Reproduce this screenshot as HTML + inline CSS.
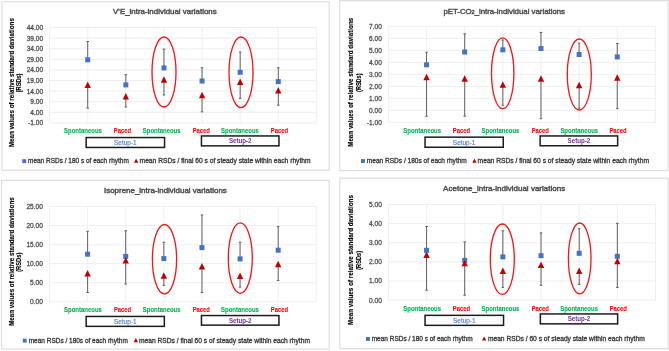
<!DOCTYPE html><html><head><meta charset="utf-8"><style>html,body{margin:0;padding:0;background:#fff;overflow:hidden;}svg{display:block;}</style></head><body>
<svg width="669" height="351" viewBox="0 0 669 351" font-family='"Liberation Sans", sans-serif'>
<defs><filter id="bl" filterUnits="userSpaceOnUse" x="0" y="0" width="669" height="351"><feGaussianBlur stdDeviation="0.45"/></filter></defs>
<rect width="669" height="351" fill="#fff"/>
<g filter="url(#bl)">
<rect x="2" y="1.8" width="327.20" height="168.40" fill="#fff" stroke="#dedede" stroke-width="1.2"/>
<line x1="49.6" y1="27.50" x2="316.4" y2="27.50" stroke="#ebebeb" stroke-width="0.8"/>
<text x="43.10" y="30.01" font-size="7" fill="#505050" stroke="#505050" stroke-width="0.3" text-anchor="end" font-weight="normal" textLength="16.46" lengthAdjust="spacingAndGlyphs">44.00</text>
<line x1="49.6" y1="38.10" x2="316.4" y2="38.10" stroke="#ebebeb" stroke-width="0.8"/>
<text x="43.10" y="40.61" font-size="7" fill="#505050" stroke="#505050" stroke-width="0.3" text-anchor="end" font-weight="normal" textLength="16.46" lengthAdjust="spacingAndGlyphs">39.00</text>
<line x1="49.6" y1="48.70" x2="316.4" y2="48.70" stroke="#ebebeb" stroke-width="0.8"/>
<text x="43.10" y="51.21" font-size="7" fill="#505050" stroke="#505050" stroke-width="0.3" text-anchor="end" font-weight="normal" textLength="16.46" lengthAdjust="spacingAndGlyphs">34.00</text>
<line x1="49.6" y1="59.30" x2="316.4" y2="59.30" stroke="#ebebeb" stroke-width="0.8"/>
<text x="43.10" y="61.81" font-size="7" fill="#505050" stroke="#505050" stroke-width="0.3" text-anchor="end" font-weight="normal" textLength="16.46" lengthAdjust="spacingAndGlyphs">29.00</text>
<line x1="49.6" y1="69.90" x2="316.4" y2="69.90" stroke="#ebebeb" stroke-width="0.8"/>
<text x="43.10" y="72.41" font-size="7" fill="#505050" stroke="#505050" stroke-width="0.3" text-anchor="end" font-weight="normal" textLength="16.46" lengthAdjust="spacingAndGlyphs">24.00</text>
<line x1="49.6" y1="80.50" x2="316.4" y2="80.50" stroke="#ebebeb" stroke-width="0.8"/>
<text x="43.10" y="83.01" font-size="7" fill="#505050" stroke="#505050" stroke-width="0.3" text-anchor="end" font-weight="normal" textLength="16.46" lengthAdjust="spacingAndGlyphs">19.00</text>
<line x1="49.6" y1="91.10" x2="316.4" y2="91.10" stroke="#ebebeb" stroke-width="0.8"/>
<text x="43.10" y="93.61" font-size="7" fill="#505050" stroke="#505050" stroke-width="0.3" text-anchor="end" font-weight="normal" textLength="16.46" lengthAdjust="spacingAndGlyphs">14.00</text>
<line x1="49.6" y1="101.70" x2="316.4" y2="101.70" stroke="#ebebeb" stroke-width="0.8"/>
<text x="43.10" y="104.21" font-size="7" fill="#505050" stroke="#505050" stroke-width="0.3" text-anchor="end" font-weight="normal" textLength="12.8" lengthAdjust="spacingAndGlyphs">9.00</text>
<line x1="49.6" y1="112.30" x2="316.4" y2="112.30" stroke="#ebebeb" stroke-width="0.8"/>
<text x="43.10" y="114.81" font-size="7" fill="#505050" stroke="#505050" stroke-width="0.3" text-anchor="end" font-weight="normal" textLength="12.8" lengthAdjust="spacingAndGlyphs">4.00</text>
<line x1="49.6" y1="122.90" x2="316.4" y2="122.90" stroke="#ebebeb" stroke-width="0.8"/>
<text x="43.10" y="125.41" font-size="7" fill="#505050" stroke="#505050" stroke-width="0.3" text-anchor="end" font-weight="normal" textLength="15.0" lengthAdjust="spacingAndGlyphs">-1.00</text>
<line x1="49.60" y1="27.5" x2="49.60" y2="122.9" stroke="#ebebeb" stroke-width="0.8"/>
<line x1="87.71" y1="27.5" x2="87.71" y2="122.9" stroke="#ebebeb" stroke-width="0.8"/>
<line x1="125.83" y1="27.5" x2="125.83" y2="122.9" stroke="#ebebeb" stroke-width="0.8"/>
<line x1="163.94" y1="27.5" x2="163.94" y2="122.9" stroke="#ebebeb" stroke-width="0.8"/>
<line x1="202.06" y1="27.5" x2="202.06" y2="122.9" stroke="#ebebeb" stroke-width="0.8"/>
<line x1="240.17" y1="27.5" x2="240.17" y2="122.9" stroke="#ebebeb" stroke-width="0.8"/>
<line x1="278.29" y1="27.5" x2="278.29" y2="122.9" stroke="#ebebeb" stroke-width="0.8"/>
<line x1="316.40" y1="27.5" x2="316.40" y2="122.9" stroke="#ebebeb" stroke-width="0.8"/>
<text x="113.10" y="13.70" font-size="7.1" fill="#505050" stroke="#505050" stroke-width="0.42" text-anchor="start" font-weight="normal" textLength="103.6" lengthAdjust="spacingAndGlyphs">V'E_intra-individual variations</text>
<text transform="translate(13.70,82.6) rotate(-90)" x="0" y="0" font-size="6.4" font-weight="bold" fill="#000" stroke="#000" stroke-width="0.12" text-anchor="middle" textLength="129" lengthAdjust="spacingAndGlyphs">Mean values of relative standard daviations</text>
<text transform="translate(21.20,82.9) rotate(-90)" x="0" y="0" font-size="6.4" font-weight="bold" fill="#000" stroke="#000" stroke-width="0.12" text-anchor="middle" textLength="18.8" lengthAdjust="spacingAndGlyphs">(RSDs)</text>
<line x1="87.71" y1="41.5" x2="87.71" y2="59.8" stroke="#606060" stroke-width="1.0"/>
<line x1="86.41" y1="41.5" x2="89.01" y2="41.5" stroke="#606060" stroke-width="1.0"/>
<line x1="87.71" y1="85.0" x2="87.71" y2="108.2" stroke="#606060" stroke-width="1.0"/>
<line x1="86.41" y1="108.2" x2="89.01" y2="108.2" stroke="#606060" stroke-width="1.0"/>
<rect x="85.21" y="57.30" width="5" height="5" fill="#4472c4"/>
<path d="M87.71,81.40 L90.91,87.90 L84.51,87.90 Z" fill="#c00000"/>
<line x1="125.83" y1="74.7" x2="125.83" y2="84.9" stroke="#606060" stroke-width="1.0"/>
<line x1="124.53" y1="74.7" x2="127.13" y2="74.7" stroke="#606060" stroke-width="1.0"/>
<line x1="125.83" y1="96.6" x2="125.83" y2="107.0" stroke="#606060" stroke-width="1.0"/>
<line x1="124.53" y1="107.0" x2="127.13" y2="107.0" stroke="#606060" stroke-width="1.0"/>
<rect x="123.33" y="82.40" width="5" height="5" fill="#4472c4"/>
<path d="M125.83,93.00 L129.03,99.50 L122.63,99.50 Z" fill="#c00000"/>
<line x1="163.94" y1="49.1" x2="163.94" y2="67.9" stroke="#606060" stroke-width="1.0"/>
<line x1="162.64" y1="49.1" x2="165.24" y2="49.1" stroke="#606060" stroke-width="1.0"/>
<line x1="163.94" y1="79.9" x2="163.94" y2="95.0" stroke="#606060" stroke-width="1.0"/>
<line x1="162.64" y1="95.0" x2="165.24" y2="95.0" stroke="#606060" stroke-width="1.0"/>
<rect x="161.44" y="65.40" width="5" height="5" fill="#4472c4"/>
<path d="M163.94,76.30 L167.14,82.80 L160.74,82.80 Z" fill="#c00000"/>
<line x1="202.06" y1="67.8" x2="202.06" y2="81.0" stroke="#606060" stroke-width="1.0"/>
<line x1="200.76" y1="67.8" x2="203.36" y2="67.8" stroke="#606060" stroke-width="1.0"/>
<line x1="202.06" y1="95.3" x2="202.06" y2="111.8" stroke="#606060" stroke-width="1.0"/>
<line x1="200.76" y1="111.8" x2="203.36" y2="111.8" stroke="#606060" stroke-width="1.0"/>
<rect x="199.56" y="78.50" width="5" height="5" fill="#4472c4"/>
<path d="M202.06,91.70 L205.26,98.20 L198.86,98.20 Z" fill="#c00000"/>
<line x1="240.17" y1="52.0" x2="240.17" y2="72.3" stroke="#606060" stroke-width="1.0"/>
<line x1="238.87" y1="52.0" x2="241.47" y2="52.0" stroke="#606060" stroke-width="1.0"/>
<line x1="240.17" y1="82.2" x2="240.17" y2="98.3" stroke="#606060" stroke-width="1.0"/>
<line x1="238.87" y1="98.3" x2="241.47" y2="98.3" stroke="#606060" stroke-width="1.0"/>
<rect x="237.67" y="69.80" width="5" height="5" fill="#4472c4"/>
<path d="M240.17,78.60 L243.37,85.10 L236.97,85.10 Z" fill="#c00000"/>
<line x1="278.29" y1="67.8" x2="278.29" y2="81.6" stroke="#606060" stroke-width="1.0"/>
<line x1="276.99" y1="67.8" x2="279.59" y2="67.8" stroke="#606060" stroke-width="1.0"/>
<line x1="278.29" y1="90.6" x2="278.29" y2="105.2" stroke="#606060" stroke-width="1.0"/>
<line x1="276.99" y1="105.2" x2="279.59" y2="105.2" stroke="#606060" stroke-width="1.0"/>
<rect x="275.79" y="79.10" width="5" height="5" fill="#4472c4"/>
<path d="M278.29,87.00 L281.49,93.50 L275.09,93.50 Z" fill="#c00000"/>
<ellipse cx="164" cy="72" rx="12" ry="35" fill="none" stroke="#f21414" stroke-width="1.3"/>
<ellipse cx="241" cy="72.3" rx="12" ry="35.3" fill="none" stroke="#f21414" stroke-width="1.3"/>
<text x="83.00" y="132.90" font-size="6.9" fill="#00b050" stroke="#00b050" stroke-width="0.1" text-anchor="middle" font-weight="bold" textLength="37.8" lengthAdjust="spacingAndGlyphs">Spontaneous</text>
<text x="122.40" y="132.90" font-size="6.9" fill="#ff0000" stroke="#ff0000" stroke-width="0.1" text-anchor="middle" font-weight="bold" textLength="17.2" lengthAdjust="spacingAndGlyphs">Paced</text>
<text x="161.70" y="132.90" font-size="6.9" fill="#00b050" stroke="#00b050" stroke-width="0.1" text-anchor="middle" font-weight="bold" textLength="37.8" lengthAdjust="spacingAndGlyphs">Spontaneous</text>
<text x="201.30" y="132.90" font-size="6.9" fill="#ff0000" stroke="#ff0000" stroke-width="0.1" text-anchor="middle" font-weight="bold" textLength="17.2" lengthAdjust="spacingAndGlyphs">Paced</text>
<text x="240.00" y="132.90" font-size="6.9" fill="#00b050" stroke="#00b050" stroke-width="0.1" text-anchor="middle" font-weight="bold" textLength="37.8" lengthAdjust="spacingAndGlyphs">Spontaneous</text>
<text x="279.40" y="132.90" font-size="6.9" fill="#ff0000" stroke="#ff0000" stroke-width="0.1" text-anchor="middle" font-weight="bold" textLength="17.2" lengthAdjust="spacingAndGlyphs">Paced</text>
<rect x="86.15" y="137.55" width="78.40" height="9.90" fill="#fff" stroke="#1a1a1a" stroke-width="1.5"/>
<text x="125.35" y="145.03" font-size="6.5" fill="#4472c4" stroke="#4472c4" stroke-width="0.1" text-anchor="middle" font-weight="normal" textLength="22.6" lengthAdjust="spacingAndGlyphs">Setup-1</text>
<rect x="201.45" y="135.95" width="77.50" height="9.90" fill="#fff" stroke="#1a1a1a" stroke-width="1.5"/>
<text x="240.20" y="143.43" font-size="6.5" fill="#7030a0" text-anchor="middle" font-weight="bold" textLength="22.6" lengthAdjust="spacingAndGlyphs">Setup-2</text>
<rect x="22.3" y="159.20" width="3.9" height="3.9" fill="#4472c4"/>
<text x="28.00" y="163.10" font-size="6.5" fill="#383838" stroke="#383838" stroke-width="0.3" text-anchor="start" font-weight="normal" textLength="100.8" lengthAdjust="spacingAndGlyphs">mean RSDs / 180 s of each rhythm</text>
<path d="M136.15,158.60 L138.30,162.80 L134.00,162.80 Z" fill="#c00000"/>
<text x="139.60" y="163.10" font-size="6.5" fill="#383838" stroke="#383838" stroke-width="0.3" text-anchor="start" font-weight="normal" textLength="171.0" lengthAdjust="spacingAndGlyphs">mean RSDs / final 60 s of steady state within each rhythm</text>
<rect x="339.8" y="0.6" width="328.20" height="170.00" fill="#fff" stroke="#dedede" stroke-width="1.2"/>
<line x1="388.4" y1="26.40" x2="655.4" y2="26.40" stroke="#ebebeb" stroke-width="0.8"/>
<text x="381.90" y="28.91" font-size="7" fill="#505050" stroke="#505050" stroke-width="0.3" text-anchor="end" font-weight="normal" textLength="12.8" lengthAdjust="spacingAndGlyphs">7.00</text>
<line x1="388.4" y1="38.40" x2="655.4" y2="38.40" stroke="#ebebeb" stroke-width="0.8"/>
<text x="381.90" y="40.91" font-size="7" fill="#505050" stroke="#505050" stroke-width="0.3" text-anchor="end" font-weight="normal" textLength="12.8" lengthAdjust="spacingAndGlyphs">6.00</text>
<line x1="388.4" y1="50.40" x2="655.4" y2="50.40" stroke="#ebebeb" stroke-width="0.8"/>
<text x="381.90" y="52.91" font-size="7" fill="#505050" stroke="#505050" stroke-width="0.3" text-anchor="end" font-weight="normal" textLength="12.8" lengthAdjust="spacingAndGlyphs">5.00</text>
<line x1="388.4" y1="62.40" x2="655.4" y2="62.40" stroke="#ebebeb" stroke-width="0.8"/>
<text x="381.90" y="64.91" font-size="7" fill="#505050" stroke="#505050" stroke-width="0.3" text-anchor="end" font-weight="normal" textLength="12.8" lengthAdjust="spacingAndGlyphs">4.00</text>
<line x1="388.4" y1="74.40" x2="655.4" y2="74.40" stroke="#ebebeb" stroke-width="0.8"/>
<text x="381.90" y="76.91" font-size="7" fill="#505050" stroke="#505050" stroke-width="0.3" text-anchor="end" font-weight="normal" textLength="12.8" lengthAdjust="spacingAndGlyphs">3.00</text>
<line x1="388.4" y1="86.40" x2="655.4" y2="86.40" stroke="#ebebeb" stroke-width="0.8"/>
<text x="381.90" y="88.91" font-size="7" fill="#505050" stroke="#505050" stroke-width="0.3" text-anchor="end" font-weight="normal" textLength="12.8" lengthAdjust="spacingAndGlyphs">2.00</text>
<line x1="388.4" y1="98.40" x2="655.4" y2="98.40" stroke="#ebebeb" stroke-width="0.8"/>
<text x="381.90" y="100.91" font-size="7" fill="#505050" stroke="#505050" stroke-width="0.3" text-anchor="end" font-weight="normal" textLength="12.8" lengthAdjust="spacingAndGlyphs">1.00</text>
<line x1="388.4" y1="110.40" x2="655.4" y2="110.40" stroke="#ebebeb" stroke-width="0.8"/>
<text x="381.90" y="112.91" font-size="7" fill="#505050" stroke="#505050" stroke-width="0.3" text-anchor="end" font-weight="normal" textLength="12.8" lengthAdjust="spacingAndGlyphs">0.00</text>
<line x1="388.4" y1="122.40" x2="655.4" y2="122.40" stroke="#ebebeb" stroke-width="0.8"/>
<text x="381.90" y="124.91" font-size="7" fill="#505050" stroke="#505050" stroke-width="0.3" text-anchor="end" font-weight="normal" textLength="15.0" lengthAdjust="spacingAndGlyphs">-1.00</text>
<line x1="388.40" y1="26.4" x2="388.40" y2="122.4" stroke="#ebebeb" stroke-width="0.8"/>
<line x1="426.54" y1="26.4" x2="426.54" y2="122.4" stroke="#ebebeb" stroke-width="0.8"/>
<line x1="464.69" y1="26.4" x2="464.69" y2="122.4" stroke="#ebebeb" stroke-width="0.8"/>
<line x1="502.83" y1="26.4" x2="502.83" y2="122.4" stroke="#ebebeb" stroke-width="0.8"/>
<line x1="540.97" y1="26.4" x2="540.97" y2="122.4" stroke="#ebebeb" stroke-width="0.8"/>
<line x1="579.11" y1="26.4" x2="579.11" y2="122.4" stroke="#ebebeb" stroke-width="0.8"/>
<line x1="617.26" y1="26.4" x2="617.26" y2="122.4" stroke="#ebebeb" stroke-width="0.8"/>
<line x1="655.40" y1="26.4" x2="655.40" y2="122.4" stroke="#ebebeb" stroke-width="0.8"/>
<text x="443.40" y="13.80" font-size="7.1" fill="#505050" stroke="#505050" stroke-width="0.42" text-anchor="start" font-weight="normal" textLength="121.6" lengthAdjust="spacingAndGlyphs">pET-CO<tspan font-size='5' dy='0.4'>2</tspan><tspan dy='-0.4'>_intra-individual variations</tspan></text>
<text transform="translate(352.80,82.3) rotate(-90)" x="0" y="0" font-size="6.4" font-weight="bold" fill="#000" stroke="#000" stroke-width="0.12" text-anchor="middle" textLength="129" lengthAdjust="spacingAndGlyphs">Mean values of relative standard daviations</text>
<text transform="translate(360.60,82.7) rotate(-90)" x="0" y="0" font-size="6.4" font-weight="bold" fill="#000" stroke="#000" stroke-width="0.12" text-anchor="middle" textLength="18.4" lengthAdjust="spacingAndGlyphs">(RSDs)</text>
<line x1="426.54" y1="52.3" x2="426.54" y2="64.8" stroke="#606060" stroke-width="1.0"/>
<line x1="425.24" y1="52.3" x2="427.84" y2="52.3" stroke="#606060" stroke-width="1.0"/>
<line x1="426.54" y1="77.4" x2="426.54" y2="116.2" stroke="#606060" stroke-width="1.0"/>
<line x1="425.24" y1="116.2" x2="427.84" y2="116.2" stroke="#606060" stroke-width="1.0"/>
<rect x="424.04" y="62.30" width="5" height="5" fill="#4472c4"/>
<path d="M426.54,73.80 L429.74,80.30 L423.34,80.30 Z" fill="#c00000"/>
<line x1="464.69" y1="33.8" x2="464.69" y2="52.0" stroke="#606060" stroke-width="1.0"/>
<line x1="463.39" y1="33.8" x2="465.99" y2="33.8" stroke="#606060" stroke-width="1.0"/>
<line x1="464.69" y1="78.9" x2="464.69" y2="116.2" stroke="#606060" stroke-width="1.0"/>
<line x1="463.39" y1="116.2" x2="465.99" y2="116.2" stroke="#606060" stroke-width="1.0"/>
<rect x="462.19" y="49.50" width="5" height="5" fill="#4472c4"/>
<path d="M464.69,75.30 L467.89,81.80 L461.49,81.80 Z" fill="#c00000"/>
<line x1="502.83" y1="40.0" x2="502.83" y2="49.8" stroke="#606060" stroke-width="1.0"/>
<line x1="501.53" y1="40.0" x2="504.13" y2="40.0" stroke="#606060" stroke-width="1.0"/>
<line x1="502.83" y1="84.9" x2="502.83" y2="105.3" stroke="#606060" stroke-width="1.0"/>
<line x1="501.53" y1="105.3" x2="504.13" y2="105.3" stroke="#606060" stroke-width="1.0"/>
<rect x="500.33" y="47.30" width="5" height="5" fill="#4472c4"/>
<path d="M502.83,81.30 L506.03,87.80 L499.63,87.80 Z" fill="#c00000"/>
<line x1="540.97" y1="32.5" x2="540.97" y2="48.5" stroke="#606060" stroke-width="1.0"/>
<line x1="539.67" y1="32.5" x2="542.27" y2="32.5" stroke="#606060" stroke-width="1.0"/>
<line x1="540.97" y1="78.9" x2="540.97" y2="118.7" stroke="#606060" stroke-width="1.0"/>
<line x1="539.67" y1="118.7" x2="542.27" y2="118.7" stroke="#606060" stroke-width="1.0"/>
<rect x="538.47" y="46.00" width="5" height="5" fill="#4472c4"/>
<path d="M540.97,75.30 L544.17,81.80 L537.77,81.80 Z" fill="#c00000"/>
<line x1="579.11" y1="43.2" x2="579.11" y2="54.5" stroke="#606060" stroke-width="1.0"/>
<line x1="577.81" y1="43.2" x2="580.41" y2="43.2" stroke="#606060" stroke-width="1.0"/>
<line x1="579.11" y1="85.3" x2="579.11" y2="108.2" stroke="#606060" stroke-width="1.0"/>
<line x1="577.81" y1="108.2" x2="580.41" y2="108.2" stroke="#606060" stroke-width="1.0"/>
<rect x="576.61" y="52.00" width="5" height="5" fill="#4472c4"/>
<path d="M579.11,81.70 L582.31,88.20 L575.91,88.20 Z" fill="#c00000"/>
<line x1="617.26" y1="43.5" x2="617.26" y2="56.9" stroke="#606060" stroke-width="1.0"/>
<line x1="615.96" y1="43.5" x2="618.56" y2="43.5" stroke="#606060" stroke-width="1.0"/>
<line x1="617.26" y1="77.8" x2="617.26" y2="108.6" stroke="#606060" stroke-width="1.0"/>
<line x1="615.96" y1="108.6" x2="618.56" y2="108.6" stroke="#606060" stroke-width="1.0"/>
<rect x="614.76" y="54.40" width="5" height="5" fill="#4472c4"/>
<path d="M617.26,74.20 L620.46,80.70 L614.06,80.70 Z" fill="#c00000"/>
<ellipse cx="502.7" cy="73.3" rx="11.2" ry="35.4" fill="none" stroke="#f21414" stroke-width="1.3"/>
<ellipse cx="579.3" cy="74.5" rx="12" ry="35.5" fill="none" stroke="#f21414" stroke-width="1.3"/>
<text x="422.20" y="132.80" font-size="6.9" fill="#00b050" stroke="#00b050" stroke-width="0.1" text-anchor="middle" font-weight="bold" textLength="37.8" lengthAdjust="spacingAndGlyphs">Spontaneous</text>
<text x="461.40" y="132.80" font-size="6.9" fill="#ff0000" stroke="#ff0000" stroke-width="0.1" text-anchor="middle" font-weight="bold" textLength="17.2" lengthAdjust="spacingAndGlyphs">Paced</text>
<text x="500.50" y="132.80" font-size="6.9" fill="#00b050" stroke="#00b050" stroke-width="0.1" text-anchor="middle" font-weight="bold" textLength="37.8" lengthAdjust="spacingAndGlyphs">Spontaneous</text>
<text x="540.30" y="132.80" font-size="6.9" fill="#ff0000" stroke="#ff0000" stroke-width="0.1" text-anchor="middle" font-weight="bold" textLength="17.2" lengthAdjust="spacingAndGlyphs">Paced</text>
<text x="579.30" y="132.80" font-size="6.9" fill="#00b050" stroke="#00b050" stroke-width="0.1" text-anchor="middle" font-weight="bold" textLength="37.8" lengthAdjust="spacingAndGlyphs">Spontaneous</text>
<text x="618.00" y="132.80" font-size="6.9" fill="#ff0000" stroke="#ff0000" stroke-width="0.1" text-anchor="middle" font-weight="bold" textLength="17.2" lengthAdjust="spacingAndGlyphs">Paced</text>
<rect x="425.05" y="137.15" width="78.20" height="10.10" fill="#fff" stroke="#1a1a1a" stroke-width="1.5"/>
<text x="464.15" y="144.73" font-size="6.5" fill="#4472c4" stroke="#4472c4" stroke-width="0.1" text-anchor="middle" font-weight="normal" textLength="22.6" lengthAdjust="spacingAndGlyphs">Setup-1</text>
<rect x="540.15" y="135.95" width="77.50" height="9.80" fill="#fff" stroke="#1a1a1a" stroke-width="1.5"/>
<text x="578.90" y="143.38" font-size="6.5" fill="#7030a0" text-anchor="middle" font-weight="bold" textLength="22.6" lengthAdjust="spacingAndGlyphs">Setup-2</text>
<rect x="361.0" y="159.10" width="3.9" height="3.9" fill="#4472c4"/>
<text x="366.80" y="163.00" font-size="6.5" fill="#383838" stroke="#383838" stroke-width="0.3" text-anchor="start" font-weight="normal" textLength="100.0" lengthAdjust="spacingAndGlyphs">mean RSDs / 180s of each rhythm</text>
<path d="M474.45,158.50 L476.60,162.70 L472.30,162.70 Z" fill="#c00000"/>
<text x="477.60" y="163.00" font-size="6.5" fill="#383838" stroke="#383838" stroke-width="0.3" text-anchor="start" font-weight="normal" textLength="171.4" lengthAdjust="spacingAndGlyphs">mean RSDs / final 60 s of steady state within each rhythm</text>
<rect x="1.6" y="180.4" width="327.60" height="168.60" fill="#fff" stroke="#dedede" stroke-width="1.2"/>
<line x1="49.5" y1="206.50" x2="316.3" y2="206.50" stroke="#ebebeb" stroke-width="0.8"/>
<text x="42.90" y="209.01" font-size="7" fill="#505050" stroke="#505050" stroke-width="0.3" text-anchor="end" font-weight="normal" textLength="16.46" lengthAdjust="spacingAndGlyphs">25.00</text>
<line x1="49.5" y1="225.56" x2="316.3" y2="225.56" stroke="#ebebeb" stroke-width="0.8"/>
<text x="42.90" y="228.07" font-size="7" fill="#505050" stroke="#505050" stroke-width="0.3" text-anchor="end" font-weight="normal" textLength="16.46" lengthAdjust="spacingAndGlyphs">20.00</text>
<line x1="49.5" y1="244.62" x2="316.3" y2="244.62" stroke="#ebebeb" stroke-width="0.8"/>
<text x="42.90" y="247.13" font-size="7" fill="#505050" stroke="#505050" stroke-width="0.3" text-anchor="end" font-weight="normal" textLength="16.46" lengthAdjust="spacingAndGlyphs">15.00</text>
<line x1="49.5" y1="263.68" x2="316.3" y2="263.68" stroke="#ebebeb" stroke-width="0.8"/>
<text x="42.90" y="266.19" font-size="7" fill="#505050" stroke="#505050" stroke-width="0.3" text-anchor="end" font-weight="normal" textLength="16.46" lengthAdjust="spacingAndGlyphs">10.00</text>
<line x1="49.5" y1="282.74" x2="316.3" y2="282.74" stroke="#ebebeb" stroke-width="0.8"/>
<text x="42.90" y="285.25" font-size="7" fill="#505050" stroke="#505050" stroke-width="0.3" text-anchor="end" font-weight="normal" textLength="12.8" lengthAdjust="spacingAndGlyphs">5.00</text>
<line x1="49.5" y1="301.80" x2="316.3" y2="301.80" stroke="#ebebeb" stroke-width="0.8"/>
<text x="42.90" y="304.31" font-size="7" fill="#505050" stroke="#505050" stroke-width="0.3" text-anchor="end" font-weight="normal" textLength="12.8" lengthAdjust="spacingAndGlyphs">0.00</text>
<line x1="49.50" y1="206.5" x2="49.50" y2="301.8" stroke="#ebebeb" stroke-width="0.8"/>
<line x1="87.61" y1="206.5" x2="87.61" y2="301.8" stroke="#ebebeb" stroke-width="0.8"/>
<line x1="125.73" y1="206.5" x2="125.73" y2="301.8" stroke="#ebebeb" stroke-width="0.8"/>
<line x1="163.84" y1="206.5" x2="163.84" y2="301.8" stroke="#ebebeb" stroke-width="0.8"/>
<line x1="201.96" y1="206.5" x2="201.96" y2="301.8" stroke="#ebebeb" stroke-width="0.8"/>
<line x1="240.07" y1="206.5" x2="240.07" y2="301.8" stroke="#ebebeb" stroke-width="0.8"/>
<line x1="278.19" y1="206.5" x2="278.19" y2="301.8" stroke="#ebebeb" stroke-width="0.8"/>
<line x1="316.30" y1="206.5" x2="316.30" y2="301.8" stroke="#ebebeb" stroke-width="0.8"/>
<text x="104.00" y="193.00" font-size="7.1" fill="#505050" stroke="#505050" stroke-width="0.42" text-anchor="start" font-weight="normal" textLength="122.8" lengthAdjust="spacingAndGlyphs">Isoprene_intra-individual variations</text>
<text transform="translate(13.50,261.6) rotate(-90)" x="0" y="0" font-size="6.4" font-weight="bold" fill="#000" stroke="#000" stroke-width="0.12" text-anchor="middle" textLength="128.5" lengthAdjust="spacingAndGlyphs">Mean values of relative standard daviations</text>
<text transform="translate(20.90,262.2) rotate(-90)" x="0" y="0" font-size="6.4" font-weight="bold" fill="#000" stroke="#000" stroke-width="0.12" text-anchor="middle" textLength="19.2" lengthAdjust="spacingAndGlyphs">(RSDs)</text>
<line x1="87.61" y1="231.3" x2="87.61" y2="254.2" stroke="#606060" stroke-width="1.0"/>
<line x1="86.31" y1="231.3" x2="88.91" y2="231.3" stroke="#606060" stroke-width="1.0"/>
<line x1="87.61" y1="273.7" x2="87.61" y2="292.5" stroke="#606060" stroke-width="1.0"/>
<line x1="86.31" y1="292.5" x2="88.91" y2="292.5" stroke="#606060" stroke-width="1.0"/>
<rect x="85.11" y="251.70" width="5" height="5" fill="#4472c4"/>
<path d="M87.61,270.10 L90.81,276.60 L84.41,276.60 Z" fill="#c00000"/>
<line x1="125.73" y1="230.7" x2="125.73" y2="256.4" stroke="#606060" stroke-width="1.0"/>
<line x1="124.43" y1="230.7" x2="127.03" y2="230.7" stroke="#606060" stroke-width="1.0"/>
<line x1="125.73" y1="260.5" x2="125.73" y2="284.0" stroke="#606060" stroke-width="1.0"/>
<line x1="124.43" y1="284.0" x2="127.03" y2="284.0" stroke="#606060" stroke-width="1.0"/>
<rect x="123.23" y="253.90" width="5" height="5" fill="#4472c4"/>
<path d="M125.73,256.90 L128.93,263.40 L122.53,263.40 Z" fill="#c00000"/>
<line x1="163.84" y1="242.3" x2="163.84" y2="258.6" stroke="#606060" stroke-width="1.0"/>
<line x1="162.54" y1="242.3" x2="165.14" y2="242.3" stroke="#606060" stroke-width="1.0"/>
<line x1="163.84" y1="275.9" x2="163.84" y2="285.3" stroke="#606060" stroke-width="1.0"/>
<line x1="162.54" y1="285.3" x2="165.14" y2="285.3" stroke="#606060" stroke-width="1.0"/>
<rect x="161.34" y="256.10" width="5" height="5" fill="#4472c4"/>
<path d="M163.84,272.30 L167.04,278.80 L160.64,278.80 Z" fill="#c00000"/>
<line x1="201.96" y1="215.0" x2="201.96" y2="247.6" stroke="#606060" stroke-width="1.0"/>
<line x1="200.66" y1="215.0" x2="203.26" y2="215.0" stroke="#606060" stroke-width="1.0"/>
<line x1="201.96" y1="266.5" x2="201.96" y2="292.5" stroke="#606060" stroke-width="1.0"/>
<line x1="200.66" y1="292.5" x2="203.26" y2="292.5" stroke="#606060" stroke-width="1.0"/>
<rect x="199.46" y="245.10" width="5" height="5" fill="#4472c4"/>
<path d="M201.96,262.90 L205.16,269.40 L198.76,269.40 Z" fill="#c00000"/>
<line x1="240.07" y1="242.3" x2="240.07" y2="258.9" stroke="#606060" stroke-width="1.0"/>
<line x1="238.77" y1="242.3" x2="241.37" y2="242.3" stroke="#606060" stroke-width="1.0"/>
<line x1="240.07" y1="276.2" x2="240.07" y2="287.1" stroke="#606060" stroke-width="1.0"/>
<line x1="238.77" y1="287.1" x2="241.37" y2="287.1" stroke="#606060" stroke-width="1.0"/>
<rect x="237.57" y="256.40" width="5" height="5" fill="#4472c4"/>
<path d="M240.07,272.60 L243.27,279.10 L236.87,279.10 Z" fill="#c00000"/>
<line x1="278.19" y1="226.6" x2="278.19" y2="250.2" stroke="#606060" stroke-width="1.0"/>
<line x1="276.89" y1="226.6" x2="279.49" y2="226.6" stroke="#606060" stroke-width="1.0"/>
<line x1="278.19" y1="264.3" x2="278.19" y2="280.6" stroke="#606060" stroke-width="1.0"/>
<line x1="276.89" y1="280.6" x2="279.49" y2="280.6" stroke="#606060" stroke-width="1.0"/>
<rect x="275.69" y="247.70" width="5" height="5" fill="#4472c4"/>
<path d="M278.19,260.70 L281.39,267.20 L274.99,267.20 Z" fill="#c00000"/>
<ellipse cx="164.5" cy="259.2" rx="12.1" ry="34.7" fill="none" stroke="#f21414" stroke-width="1.3"/>
<ellipse cx="240.3" cy="258.1" rx="12" ry="35.2" fill="none" stroke="#f21414" stroke-width="1.3"/>
<text x="83.00" y="312.20" font-size="6.9" fill="#00b050" stroke="#00b050" stroke-width="0.1" text-anchor="middle" font-weight="bold" textLength="37.8" lengthAdjust="spacingAndGlyphs">Spontaneous</text>
<text x="122.50" y="312.20" font-size="6.9" fill="#ff0000" stroke="#ff0000" stroke-width="0.1" text-anchor="middle" font-weight="bold" textLength="17.2" lengthAdjust="spacingAndGlyphs">Paced</text>
<text x="161.70" y="312.20" font-size="6.9" fill="#00b050" stroke="#00b050" stroke-width="0.1" text-anchor="middle" font-weight="bold" textLength="37.8" lengthAdjust="spacingAndGlyphs">Spontaneous</text>
<text x="201.30" y="312.20" font-size="6.9" fill="#ff0000" stroke="#ff0000" stroke-width="0.1" text-anchor="middle" font-weight="bold" textLength="17.2" lengthAdjust="spacingAndGlyphs">Paced</text>
<text x="240.00" y="312.20" font-size="6.9" fill="#00b050" stroke="#00b050" stroke-width="0.1" text-anchor="middle" font-weight="bold" textLength="37.8" lengthAdjust="spacingAndGlyphs">Spontaneous</text>
<text x="279.40" y="312.20" font-size="6.9" fill="#ff0000" stroke="#ff0000" stroke-width="0.1" text-anchor="middle" font-weight="bold" textLength="17.2" lengthAdjust="spacingAndGlyphs">Paced</text>
<rect x="86.15" y="316.45" width="78.20" height="9.90" fill="#fff" stroke="#1a1a1a" stroke-width="1.5"/>
<text x="125.25" y="323.93" font-size="6.5" fill="#4472c4" stroke="#4472c4" stroke-width="0.1" text-anchor="middle" font-weight="normal" textLength="22.6" lengthAdjust="spacingAndGlyphs">Setup-1</text>
<rect x="201.45" y="315.55" width="77.50" height="9.60" fill="#fff" stroke="#1a1a1a" stroke-width="1.5"/>
<text x="240.20" y="322.88" font-size="6.5" fill="#7030a0" text-anchor="middle" font-weight="bold" textLength="22.6" lengthAdjust="spacingAndGlyphs">Setup-2</text>
<rect x="22.8" y="338.70" width="3.9" height="3.9" fill="#4472c4"/>
<text x="28.70" y="342.60" font-size="6.5" fill="#383838" stroke="#383838" stroke-width="0.3" text-anchor="start" font-weight="normal" textLength="99.1" lengthAdjust="spacingAndGlyphs">mean RSDs / 180s of each rhythm</text>
<path d="M135.85,338.10 L138.00,342.30 L133.70,342.30 Z" fill="#c00000"/>
<text x="138.90" y="342.60" font-size="6.5" fill="#383838" stroke="#383838" stroke-width="0.3" text-anchor="start" font-weight="normal" textLength="171.1" lengthAdjust="spacingAndGlyphs">mean RSDs / final 60 s of steady state within each rhythm</text>
<rect x="339.8" y="178.2" width="328.20" height="170.50" fill="#fff" stroke="#dedede" stroke-width="1.2"/>
<line x1="388.4" y1="204.50" x2="655.5" y2="204.50" stroke="#ebebeb" stroke-width="0.8"/>
<text x="381.80" y="207.01" font-size="7" fill="#505050" stroke="#505050" stroke-width="0.3" text-anchor="end" font-weight="normal" textLength="12.8" lengthAdjust="spacingAndGlyphs">5.00</text>
<line x1="388.4" y1="223.62" x2="655.5" y2="223.62" stroke="#ebebeb" stroke-width="0.8"/>
<text x="381.80" y="226.13" font-size="7" fill="#505050" stroke="#505050" stroke-width="0.3" text-anchor="end" font-weight="normal" textLength="12.8" lengthAdjust="spacingAndGlyphs">4.00</text>
<line x1="388.4" y1="242.74" x2="655.5" y2="242.74" stroke="#ebebeb" stroke-width="0.8"/>
<text x="381.80" y="245.25" font-size="7" fill="#505050" stroke="#505050" stroke-width="0.3" text-anchor="end" font-weight="normal" textLength="12.8" lengthAdjust="spacingAndGlyphs">3.00</text>
<line x1="388.4" y1="261.86" x2="655.5" y2="261.86" stroke="#ebebeb" stroke-width="0.8"/>
<text x="381.80" y="264.37" font-size="7" fill="#505050" stroke="#505050" stroke-width="0.3" text-anchor="end" font-weight="normal" textLength="12.8" lengthAdjust="spacingAndGlyphs">2.00</text>
<line x1="388.4" y1="280.98" x2="655.5" y2="280.98" stroke="#ebebeb" stroke-width="0.8"/>
<text x="381.80" y="283.49" font-size="7" fill="#505050" stroke="#505050" stroke-width="0.3" text-anchor="end" font-weight="normal" textLength="12.8" lengthAdjust="spacingAndGlyphs">1.00</text>
<line x1="388.4" y1="300.10" x2="655.5" y2="300.10" stroke="#ebebeb" stroke-width="0.8"/>
<text x="381.80" y="302.61" font-size="7" fill="#505050" stroke="#505050" stroke-width="0.3" text-anchor="end" font-weight="normal" textLength="12.8" lengthAdjust="spacingAndGlyphs">0.00</text>
<line x1="388.40" y1="204.5" x2="388.40" y2="300.1" stroke="#ebebeb" stroke-width="0.8"/>
<line x1="426.56" y1="204.5" x2="426.56" y2="300.1" stroke="#ebebeb" stroke-width="0.8"/>
<line x1="464.71" y1="204.5" x2="464.71" y2="300.1" stroke="#ebebeb" stroke-width="0.8"/>
<line x1="502.87" y1="204.5" x2="502.87" y2="300.1" stroke="#ebebeb" stroke-width="0.8"/>
<line x1="541.03" y1="204.5" x2="541.03" y2="300.1" stroke="#ebebeb" stroke-width="0.8"/>
<line x1="579.19" y1="204.5" x2="579.19" y2="300.1" stroke="#ebebeb" stroke-width="0.8"/>
<line x1="617.34" y1="204.5" x2="617.34" y2="300.1" stroke="#ebebeb" stroke-width="0.8"/>
<line x1="655.50" y1="204.5" x2="655.50" y2="300.1" stroke="#ebebeb" stroke-width="0.8"/>
<text x="443.10" y="190.60" font-size="7.1" fill="#505050" stroke="#505050" stroke-width="0.42" text-anchor="start" font-weight="normal" textLength="122.1" lengthAdjust="spacingAndGlyphs">Acetone_intra-individual variations</text>
<text transform="translate(352.60,260.1) rotate(-90)" x="0" y="0" font-size="6.4" font-weight="bold" fill="#000" stroke="#000" stroke-width="0.12" text-anchor="middle" textLength="130" lengthAdjust="spacingAndGlyphs">Mean values of relative standard daviations</text>
<text transform="translate(360.60,260.4) rotate(-90)" x="0" y="0" font-size="6.4" font-weight="bold" fill="#000" stroke="#000" stroke-width="0.12" text-anchor="middle" textLength="18.9" lengthAdjust="spacingAndGlyphs">(RSDs)</text>
<line x1="426.56" y1="226.5" x2="426.56" y2="250.3" stroke="#606060" stroke-width="1.0"/>
<line x1="425.26" y1="226.5" x2="427.86" y2="226.5" stroke="#606060" stroke-width="1.0"/>
<line x1="426.56" y1="255.0" x2="426.56" y2="290.2" stroke="#606060" stroke-width="1.0"/>
<line x1="425.26" y1="290.2" x2="427.86" y2="290.2" stroke="#606060" stroke-width="1.0"/>
<rect x="424.06" y="247.80" width="5" height="5" fill="#4472c4"/>
<path d="M426.56,251.40 L429.76,257.90 L423.36,257.90 Z" fill="#c00000"/>
<line x1="464.71" y1="241.9" x2="464.71" y2="260.4" stroke="#606060" stroke-width="1.0"/>
<line x1="463.41" y1="241.9" x2="466.01" y2="241.9" stroke="#606060" stroke-width="1.0"/>
<line x1="464.71" y1="263.4" x2="464.71" y2="295.2" stroke="#606060" stroke-width="1.0"/>
<line x1="463.41" y1="295.2" x2="466.01" y2="295.2" stroke="#606060" stroke-width="1.0"/>
<rect x="462.21" y="257.90" width="5" height="5" fill="#4472c4"/>
<path d="M464.71,259.80 L467.91,266.30 L461.51,266.30 Z" fill="#c00000"/>
<line x1="502.87" y1="230.8" x2="502.87" y2="256.9" stroke="#606060" stroke-width="1.0"/>
<line x1="501.57" y1="230.8" x2="504.17" y2="230.8" stroke="#606060" stroke-width="1.0"/>
<line x1="502.87" y1="271.2" x2="502.87" y2="287.4" stroke="#606060" stroke-width="1.0"/>
<line x1="501.57" y1="287.4" x2="504.17" y2="287.4" stroke="#606060" stroke-width="1.0"/>
<rect x="500.37" y="254.40" width="5" height="5" fill="#4472c4"/>
<path d="M502.87,267.60 L506.07,274.10 L499.67,274.10 Z" fill="#c00000"/>
<line x1="541.03" y1="232.9" x2="541.03" y2="255.7" stroke="#606060" stroke-width="1.0"/>
<line x1="539.73" y1="232.9" x2="542.33" y2="232.9" stroke="#606060" stroke-width="1.0"/>
<line x1="541.03" y1="265.2" x2="541.03" y2="285.3" stroke="#606060" stroke-width="1.0"/>
<line x1="539.73" y1="285.3" x2="542.33" y2="285.3" stroke="#606060" stroke-width="1.0"/>
<rect x="538.53" y="253.20" width="5" height="5" fill="#4472c4"/>
<path d="M541.03,261.60 L544.23,268.10 L537.83,268.10 Z" fill="#c00000"/>
<line x1="579.19" y1="228.7" x2="579.19" y2="253.3" stroke="#606060" stroke-width="1.0"/>
<line x1="577.89" y1="228.7" x2="580.49" y2="228.7" stroke="#606060" stroke-width="1.0"/>
<line x1="579.19" y1="271.2" x2="579.19" y2="284.4" stroke="#606060" stroke-width="1.0"/>
<line x1="577.89" y1="284.4" x2="580.49" y2="284.4" stroke="#606060" stroke-width="1.0"/>
<rect x="576.69" y="250.80" width="5" height="5" fill="#4472c4"/>
<path d="M579.19,267.60 L582.39,274.10 L575.99,274.10 Z" fill="#c00000"/>
<line x1="617.34" y1="223.3" x2="617.34" y2="256.3" stroke="#606060" stroke-width="1.0"/>
<line x1="616.04" y1="223.3" x2="618.64" y2="223.3" stroke="#606060" stroke-width="1.0"/>
<line x1="617.34" y1="261.3" x2="617.34" y2="287.4" stroke="#606060" stroke-width="1.0"/>
<line x1="616.04" y1="287.4" x2="618.64" y2="287.4" stroke="#606060" stroke-width="1.0"/>
<rect x="614.84" y="253.80" width="5" height="5" fill="#4472c4"/>
<path d="M617.34,257.70 L620.54,264.20 L614.14,264.20 Z" fill="#c00000"/>
<ellipse cx="502.3" cy="259.2" rx="12" ry="35.2" fill="none" stroke="#f21414" stroke-width="1.3"/>
<ellipse cx="579.7" cy="258.4" rx="11.3" ry="35.4" fill="none" stroke="#f21414" stroke-width="1.3"/>
<text x="422.20" y="310.80" font-size="6.9" fill="#00b050" stroke="#00b050" stroke-width="0.1" text-anchor="middle" font-weight="bold" textLength="37.8" lengthAdjust="spacingAndGlyphs">Spontaneous</text>
<text x="461.40" y="310.80" font-size="6.9" fill="#ff0000" stroke="#ff0000" stroke-width="0.1" text-anchor="middle" font-weight="bold" textLength="17.2" lengthAdjust="spacingAndGlyphs">Paced</text>
<text x="500.50" y="310.80" font-size="6.9" fill="#00b050" stroke="#00b050" stroke-width="0.1" text-anchor="middle" font-weight="bold" textLength="37.8" lengthAdjust="spacingAndGlyphs">Spontaneous</text>
<text x="540.30" y="310.80" font-size="6.9" fill="#ff0000" stroke="#ff0000" stroke-width="0.1" text-anchor="middle" font-weight="bold" textLength="17.2" lengthAdjust="spacingAndGlyphs">Paced</text>
<text x="579.10" y="310.80" font-size="6.9" fill="#00b050" stroke="#00b050" stroke-width="0.1" text-anchor="middle" font-weight="bold" textLength="37.8" lengthAdjust="spacingAndGlyphs">Spontaneous</text>
<text x="618.30" y="310.80" font-size="6.9" fill="#ff0000" stroke="#ff0000" stroke-width="0.1" text-anchor="middle" font-weight="bold" textLength="17.2" lengthAdjust="spacingAndGlyphs">Paced</text>
<rect x="425.05" y="315.35" width="78.50" height="10.00" fill="#fff" stroke="#1a1a1a" stroke-width="1.5"/>
<text x="464.30" y="322.88" font-size="6.5" fill="#4472c4" stroke="#4472c4" stroke-width="0.1" text-anchor="middle" font-weight="normal" textLength="22.6" lengthAdjust="spacingAndGlyphs">Setup-1</text>
<rect x="540.35" y="313.95" width="77.30" height="9.90" fill="#fff" stroke="#1a1a1a" stroke-width="1.5"/>
<text x="579.00" y="321.43" font-size="6.5" fill="#7030a0" text-anchor="middle" font-weight="bold" textLength="22.6" lengthAdjust="spacingAndGlyphs">Setup-2</text>
<rect x="366.0" y="337.00" width="3.9" height="3.9" fill="#4472c4"/>
<text x="371.70" y="340.90" font-size="6.5" fill="#383838" stroke="#383838" stroke-width="0.3" text-anchor="start" font-weight="normal" textLength="100.9" lengthAdjust="spacingAndGlyphs">mean RSDs / 180 s of each rhythm</text>
<path d="M484.15,336.40 L486.30,340.60 L482.00,340.60 Z" fill="#c00000"/>
<text x="487.90" y="340.90" font-size="6.5" fill="#383838" stroke="#383838" stroke-width="0.3" text-anchor="start" font-weight="normal" textLength="156.8" lengthAdjust="spacingAndGlyphs">mean RSDs / 60 s of steady state within each rhythm</text>
</g></svg></body></html>
